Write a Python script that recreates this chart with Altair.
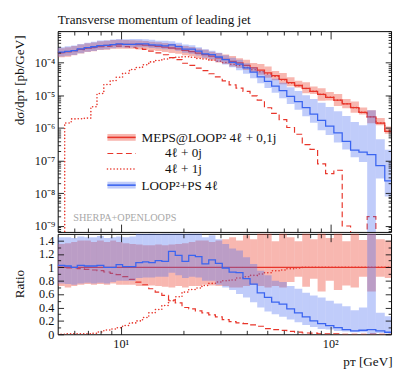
import altair as alt
import pandas as pd

# ---------------- data ----------------
edges = [5, 5.4, 5.8, 6.2, 6.7, 7.2, 7.7, 8.3, 8.9, 9.5, 10.2, 11, 11.8, 12.7, 13.6,
         14.6, 15.7, 16.9, 18.2, 19.6, 21.1, 22.7, 24.4, 26.3, 28.3, 30.5, 32.9, 35.5,
         38.3, 41.4, 44.8, 48.5, 52.5, 57, 62, 67.5, 73.5, 80, 87, 95, 104, 114, 125,
         137, 150, 165, 182, 200]

# MEPS@LOOP2 4l+0,1j central value [pb/GeV]
red_c = [2.04e-4, 2.19e-4, 2.34e-4, 2.57e-4, 2.82e-4, 3.02e-4, 3.24e-4, 3.39e-4, 3.55e-4, 3.63e-4,
         3.63e-4, 3.63e-4, 3.55e-4, 3.47e-4, 3.31e-4, 3.16e-4, 3.02e-4, 2.82e-4, 2.63e-4, 2.40e-4,
         2.19e-4, 1.95e-4, 1.78e-4, 1.58e-4, 1.41e-4, 1.26e-4, 1.10e-4, 9.8e-5, 8.3e-5, 6.9e-5,
         5.9e-5, 4.9e-5, 4.0e-5, 3.1e-5, 2.45e-5, 2.0e-5, 1.62e-5, 1.32e-5, 1.07e-5, 8.7e-6,
         7.1e-6, 5.5e-6, 4.2e-6, 3.0e-6, 2.19e-6, 1.41e-6, 7.9e-7]

# everything below is a ratio to red_c (as in the lower panel)
red_lo_r = [0.72, 0.70, 0.72, 0.74, 0.75, 0.74, 0.75, 0.74, 0.76, 0.74,
            0.74, 0.74, 0.72, 0.72, 0.73, 0.72, 0.71, 0.70, 0.72, 0.70,
            0.72, 0.72, 0.74, 0.73, 0.72, 0.72, 0.70, 0.70, 0.72, 0.74,
            0.72, 0.70, 0.72, 0.70, 0.78, 0.86, 0.71, 0.83, 0.64, 0.80,
            0.66, 0.73, 0.70, 0.86, 0.64, 0.86, 0.84]
red_hi_r = [1.35, 1.36, 1.38, 1.40, 1.40, 1.38, 1.40, 1.38, 1.40, 1.38,
            1.36, 1.35, 1.34, 1.33, 1.33, 1.34, 1.33, 1.34, 1.35, 1.36,
            1.38, 1.40, 1.40, 1.38, 1.40, 1.42, 1.45, 1.40, 1.48, 1.42,
            1.55, 1.55, 1.39, 1.55, 1.45, 1.39, 1.55, 1.42, 1.55, 1.44,
            1.55, 1.39, 1.55, 1.41, 1.60, 1.42, 1.40]
blue_r = [1.03, 1.02, 1.00, 1.03, 1.02, 1.02, 1.03, 1.00, 1.00, 1.04,
          1.01, 1.01, 1.07, 1.08, 1.07, 1.10, 1.09, 1.24, 1.18, 1.09,
          1.18, 1.16, 1.05, 1.11, 1.06, 0.99, 0.93, 0.92, 0.83, 0.75,
          0.62, 0.55, 0.48, 0.45, 0.38, 0.32, 0.26, 0.20, 0.16, 0.13,
          0.10, 0.07, 0.05, 0.06, 0.07, 0.05, 0.03]
blue_hi_r = [1.45, 1.45, 1.44, 1.46, 1.45, 1.45, 1.47, 1.44, 1.45, 1.46,
             1.45, 1.46, 1.50, 1.50, 1.52, 1.50, 1.55, 1.60, 1.55, 1.50,
             1.55, 1.52, 1.45, 1.48, 1.42, 1.35, 1.28, 1.25, 1.15, 1.05,
             0.95, 0.88, 0.80, 0.78, 0.72, 0.68, 0.62, 0.58, 0.55, 0.50,
             0.46, 0.42, 0.36, 0.40, 1.60, 0.32, 0.27]
blue_lo_r = [0.76, 0.75, 0.74, 0.76, 0.77, 0.76, 0.77, 0.76, 0.78, 0.80,
             0.80, 0.80, 0.84, 0.85, 0.85, 0.86, 0.86, 0.92, 0.88, 0.84,
             0.86, 0.85, 0.80, 0.80, 0.74, 0.70, 0.66, 0.60, 0.55, 0.48,
             0.40, 0.34, 0.30, 0.26, 0.22, 0.18, 0.14, 0.11, 0.08, 0.07,
             0.05, 0.04, 0.03, 0.03, 0.0, 0.02, 0.01]
dash_r = [1.00, 0.99, 0.99, 0.98, 0.97, 0.96, 0.95, 0.93, 0.91, 0.89,
          0.86, 0.82, 0.78, 0.74, 0.68, 0.63, 0.58, 0.51, 0.47, 0.40,
          0.38, 0.35, 0.32, 0.29, 0.26, 0.22, 0.19, 0.17, 0.16, 0.14,
          0.12, 0.085, 0.07, 0.058, 0.042, 0.032, 0.019, 0.0166, 0.0074, 0.0046,
          0.0071, 0.00018, 0.0, 0.0, 0.00087, 0.0, 0.0]
dot_r = [0.0, 0.0065, 0.0081, 0.0074, 0.0071, 0.0148, 0.035, 0.063, 0.079, 0.098,
         0.13, 0.17, 0.20, 0.25, 0.32, 0.37, 0.43, 0.50, 0.56, 0.63,
         0.67, 0.69, 0.73, 0.76, 0.78, 0.80, 0.81, 0.84, 0.86, 0.88,
         0.90, 0.92, 0.95, 0.96, 0.98, 0.99, 1.0, 1.0, 1.0, 1.0,
         1.0, 1.0, 1.0, 1.0, 1.0, 1.0, 1.0]

x_major = [10, 100]
x_minor = [6, 7, 8, 9, 20, 30, 40, 50, 60, 70, 80, 90]
yt_major = [1e-9, 1e-8, 1e-7, 1e-6, 1e-5, 1e-4]
yt_minor = [7e-10, 8e-10, 9e-10] + [k * 10.0 ** e for e in range(-9, -3) for k in range(2, 10)]
yr_major = [0, 0.2, 0.4, 0.6, 0.8, 1.0, 1.2, 1.4]
yr_minor = [0.1, 0.3, 0.5, 0.7, 0.9, 1.1, 1.3]

# ---------------- tables ----------------
FLOOR = 1e-12
n = len(red_c)


def absval(ratio):
    return [max(r * c, FLOOR) for r, c in zip(ratio, red_c)]


bins = pd.DataFrame({
    'lo': edges[:-1], 'hi': edges[1:],
    'red_lo_t': absval(red_lo_r), 'red_hi_t': absval(red_hi_r),
    'blue_lo_t': absval(blue_lo_r), 'blue_hi_t': absval(blue_hi_r),
    'red_lo_r': red_lo_r, 'red_hi_r': red_hi_r,
    'blue_lo_r': blue_lo_r, 'blue_hi_r': blue_hi_r,
})


def steps(name, ratio):
    t = absval(ratio)
    return pd.DataFrame({'x': edges, 'top': t + [t[-1]],
                         'ratio': list(ratio) + [ratio[-1]], 'series': name})


steps_df = pd.concat([steps('red', [1.0] * n), steps('dash', dash_r),
                      steps('dot', dot_r), steps('blue', blue_r)], ignore_index=True)
one = pd.DataFrame({'k': [0]})

# ---------------- style ----------------
FONT = 'Liberation Serif'
RED = '#e8352a'
RED_BAND = '#ee4a3a'
BLUE = '#3a64f0'
BLUE_BAND = '#4a6ef0'
W, HT, HR = 342, 206, 103
LAB = 12.5
TIT = 13.5

XS = alt.Scale(type='log', domain=[5, 195], nice=False)
YT = alt.Scale(type='log', domain=[6.5e-10, 9.27e-4], nice=False)
YR = alt.Scale(domain=[0, 1.5], nice=False, zero=False)


def ax(orient, values, size, **kw):
    opts = dict(orient=orient, values=values, tickSize=size, offset=-size,
                domain=False, grid=False, labels=False, zindex=1, title=None)
    opts.update(kw)
    return alt.Axis(**opts)


sup = "['⁰','¹','²','³','⁴','⁵','⁶','⁷','⁸','⁹']"
yt_label_axis = ax('left', yt_major, 6, labels=True,
                   labelExpr="'10⁻' + " + sup + "[round(-log(datum.value)/LN10)]",
                   labelFontSize=LAB, labelPadding=3, labelFlush=False,
                   title='dσ/dpᴛ [pb/GeV]', titleX=-45, titleY=50, titleAngle=270,
                   titleAlign='center', titleBaseline='middle', titleFontSize=TIT)
yr_label_axis = ax('left', yr_major, 6, labels=True, format='.1~f',
                   labelFontSize=LAB, labelPadding=4, labelFlush=False,
                   title='Ratio', titleX=-45, titleY=51, titleAngle=270,
                   titleAlign='center', titleBaseline='middle', titleFontSize=TIT)
xr_label_axis = ax('bottom', x_major, 8, labels=True,
                   labelExpr="datum.value == 10 ? '10¹' : '10²'",
                   labelFontSize=LAB, labelPadding=4, labelFlush=False,
                   title='pᴛ [GeV]', titleX=W + 1, titleY=40, titleAlign='right',
                   titleBaseline='alphabetic', titleFontSize=TIT)


def band(field_lo, field_hi, color, op, yscale, xaxis=None, yaxis=None):
    return alt.Chart(bins).mark_rect(color=color, opacity=op, clip=True).encode(
        x=alt.X('lo:Q', scale=XS, axis=xaxis), x2='hi:Q',
        y=alt.Y(field_lo + ':Q', scale=yscale, axis=yaxis), y2=field_hi + ':Q')


def step(series, field, color, yscale, xaxis=None, yaxis=None, dash=None, width=1.3, cap='butt'):
    mk = dict(color=color, strokeWidth=width, interpolate='step-after', clip=True, strokeCap=cap)
    if dash:
        mk['strokeDash'] = dash
    return alt.Chart(steps_df).transform_filter(alt.datum.series == series).mark_line(**mk).encode(
        x=alt.X('x:Q', scale=XS, axis=xaxis), y=alt.Y(field + ':Q', scale=yscale, axis=yaxis))


DASH = [6, 3.5]
DOT = [0.1, 3.3]

# ---------------- top panel ----------------
top_layers = [
    band('red_lo_t', 'red_hi_t', RED_BAND, 0.4, YT,
         xaxis=ax('top', x_major, 8), yaxis=yt_label_axis),
    step('red', 'top', RED, YT, xaxis=ax('top', x_minor, 4), yaxis=ax('left', yt_minor, 3)),
    step('dash', 'top', RED, YT, xaxis=ax('bottom', x_major, 8), yaxis=ax('right', yt_major, 6),
         dash=DASH, width=1.2),
    step('dot', 'top', RED, YT, xaxis=ax('bottom', x_minor, 4), yaxis=ax('right', yt_minor, 3),
         dash=DOT, width=1.6, cap='round'),
    band('blue_lo_t', 'blue_hi_t', BLUE_BAND, 0.35, YT),
    step('blue', 'top', BLUE, YT),
]


def lrect(y0, y1, color, op):
    return alt.Chart(one).mark_rect(color=color, opacity=op).encode(
        x=alt.value(51), x2=alt.value(80), y=alt.value(y0), y2=alt.value(y1))


def lrule(y, color, dash=None, width=1.3, cap='butt'):
    mk = dict(color=color, strokeWidth=width, strokeCap=cap)
    if dash:
        mk['strokeDash'] = dash
    return alt.Chart(one).mark_rule(**mk).encode(
        x=alt.value(51), x2=alt.value(80), y=alt.value(y))


def ltext(x, y, txt, size=TIT, color='#111'):
    return alt.Chart(one).mark_text(align='left', baseline='alphabetic', font=FONT,
                                    fontSize=size, color=color).encode(
        x=alt.value(x), y=alt.value(y), text=alt.value(txt))


top_layers += [
    lrect(105.5, 112.5, RED_BAND, 0.4), lrule(109, RED, width=1.6),
    lrule(125.5, RED, dash=DASH, width=1.2),
    lrule(141.5, RED, dash=DOT, width=1.6, cap='round'),
    lrect(154.5, 161.5, BLUE_BAND, 0.35), lrule(158, BLUE, width=1.6),
    ltext(86, 113.5, 'MEPS@LOOP² 4ℓ + 0,1j'),
    ltext(110, 129.5, '4ℓ + 0j'),
    ltext(110, 145.5, '4ℓ + 1j'),
    ltext(86, 162.5, 'LOOP²+PS 4ℓ'),
    ltext(16, 194.5, 'SHERPA+OPENLOOPS', size=10.5, color='#a8a8a8'),
]

top = alt.layer(*top_layers).resolve_axis(x='independent', y='independent').properties(
    width=W, height=HT,
    title=alt.TitleParams('Transverse momentum of leading jet', anchor='start', frame='group',
                          font=FONT, fontSize=TIT, fontWeight='normal', color='#111', offset=4))

# ---------------- ratio panel ----------------
bot_layers = [
    band('red_lo_r', 'red_hi_r', RED_BAND, 0.4, YR,
         xaxis=ax('top', x_major, 8), yaxis=yr_label_axis),
    step('red', 'ratio', RED, YR, xaxis=ax('top', x_minor, 4), yaxis=ax('left', yr_minor, 3)),
    step('dash', 'ratio', RED, YR, xaxis=xr_label_axis, yaxis=ax('right', yr_major, 6),
         dash=DASH, width=1.2),
    step('dot', 'ratio', RED, YR, xaxis=ax('bottom', x_minor, 4), yaxis=ax('right', yr_minor, 3),
         dash=DOT, width=1.6, cap='round'),
    band('blue_lo_r', 'blue_hi_r', BLUE_BAND, 0.35, YR),
    step('blue', 'ratio', BLUE, YR),
]
bottom = alt.layer(*bot_layers).resolve_axis(x='independent', y='independent').properties(
    width=W, height=HR)

chart = alt.vconcat(top, bottom, spacing=0).properties(
    padding={'left': 4, 'top': 0, 'right': 0, 'bottom': 0}
).configure_view(stroke='black', strokeWidth=1).configure_axis(
    labelFont=FONT, titleFont=FONT, labelColor='#111', titleColor='#111',
    tickColor='#111', tickWidth=0.9, titleFontWeight='normal')

chart.save('out.html', embed_options={'renderer': 'svg', 'actions': False})
